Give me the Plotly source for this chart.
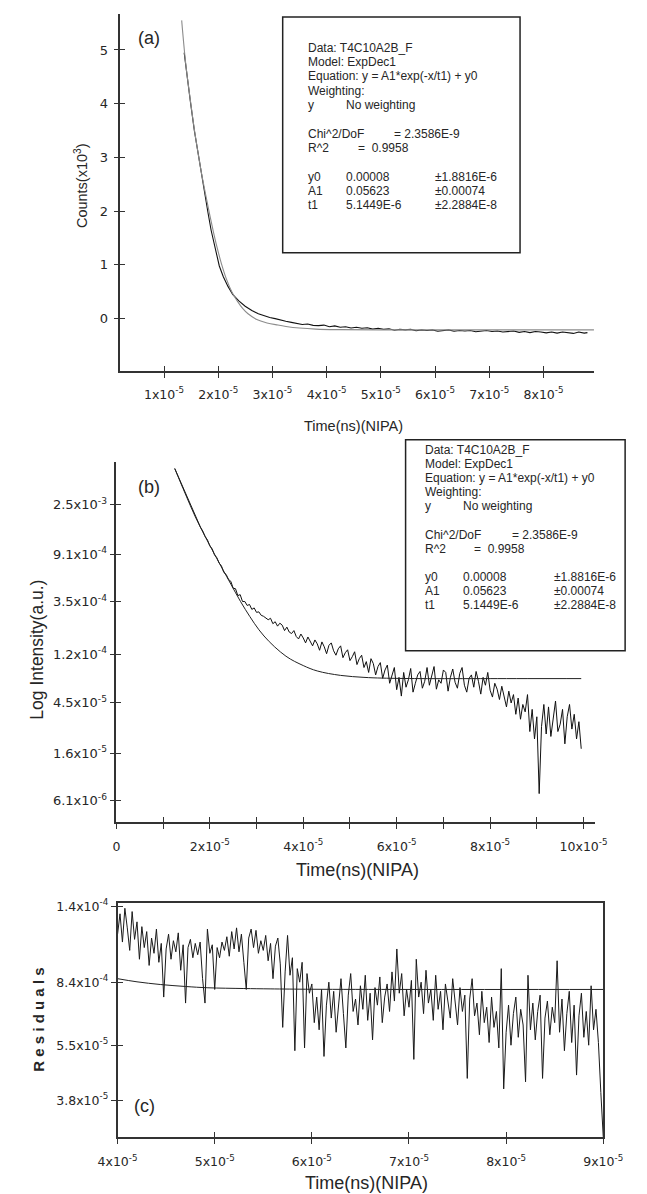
import numpy as np
import plotly.graph_objects as go

# ===================== DATA =====================
# Panel (a): time in units of 1e-5, counts in units of 1e3
a_time = [1.372, 1.43, 1.488, 1.56, 1.632, 1.69, 1.748, 1.81, 1.87, 1.948, 2.02, 2.094,
          2.18, 2.267, 2.38, 2.497, 2.62, 2.74, 2.843, 2.95, 3.05, 3.15, 3.246,
          3.35, 3.45, 3.55, 3.65, 3.75, 3.85, 3.95, 4.05, 4.15, 4.25, 4.35, 4.45, 4.55,
          4.65, 4.75, 4.85, 4.95, 5.05, 5.15, 5.25, 5.35, 5.45, 5.55, 5.65, 5.75, 5.85,
          5.95, 6.05, 6.15, 6.25, 6.35, 6.45, 6.55, 6.65, 6.75, 6.85, 6.95, 7.05, 7.15,
          7.25, 7.35, 7.45, 7.55, 7.65, 7.75, 7.85, 7.95, 8.05, 8.15, 8.25, 8.35, 8.45,
          8.55, 8.65, 8.75, 8.81]
a_counts = [4.95, 4.45, 4.03, 3.50, 3.04, 2.68, 2.36, 1.98, 1.64, 1.28, 0.98, 0.78,
            0.60, 0.45, 0.33, 0.23, 0.15, 0.09, 0.05, 0.02, 0.00, -0.03, -0.05,
            -0.07, -0.085, -0.11, -0.10, -0.125, -0.13, -0.12, -0.15, -0.135, -0.16, -0.15,
            -0.175, -0.16, -0.18, -0.17, -0.195, -0.18, -0.20, -0.19, -0.215, -0.20, -0.21,
            -0.20, -0.225, -0.21, -0.22, -0.21, -0.235, -0.22, -0.21, -0.235, -0.22, -0.23,
            -0.22, -0.245, -0.23, -0.22, -0.24, -0.23, -0.25, -0.24, -0.23, -0.255, -0.24,
            -0.26, -0.24, -0.25, -0.265, -0.25, -0.27, -0.25, -0.26, -0.275, -0.25, -0.27,
            -0.26]
a_fit_time = [1.326, 1.40, 1.488, 1.56, 1.632, 1.70, 1.77, 1.84, 1.91, 1.98, 2.06, 2.15,
              2.25, 2.35, 2.45, 2.55, 2.70, 2.90, 3.10, 3.25, 3.50, 3.80, 4.20, 5.00, 8.93]
a_fit_counts = [5.55, 4.75, 4.05, 3.52, 3.06, 2.66, 2.30, 1.95, 1.62, 1.32, 1.02, 0.74,
                0.50, 0.33, 0.19, 0.09, -0.01, -0.08, -0.12, -0.145, -0.175, -0.195,
                -0.205, -0.21, -0.21]
a_xtick_vals = [1, 2, 3, 4, 5, 6, 7, 8]
a_xtick_text = ["1x10<sup>-5</sup>", "2x10<sup>-5</sup>", "3x10<sup>-5</sup>", "4x10<sup>-5</sup>",
                "5x10<sup>-5</sup>", "6x10<sup>-5</sup>", "7x10<sup>-5</sup>", "8x10<sup>-5</sup>"]
a_ytick_vals = [0, 1, 2, 3, 4, 5]

# Panel (b): uniformly sampled, time in units of 1e-5; natural log of intensity
b_time_start, b_time_step = 1.25, 0.05
b_ln_intensity = [
    -5.26, -5.37, -5.48, -5.60, -5.71, -5.82, -5.93, -6.04, -6.15, -6.25,
    -6.35, -6.45, -6.53, -6.64, -6.71, -6.83, -6.89, -7.01, -7.07, -7.18,
    -7.24, -7.37, -7.41, -7.51, -7.55, -7.69, -7.70, -7.84, -7.82, -7.96,
    -7.96, -8.04, -8.02, -8.12, -8.09, -8.18, -8.17, -8.24, -8.26, -8.30,
    -8.33, -8.30, -8.41, -8.37, -8.46, -8.40, -8.44, -8.55, -8.48, -8.58,
    -8.61, -8.55, -8.67, -8.72, -8.62, -8.70, -8.80, -8.68, -8.76, -8.86,
    -8.74, -8.82, -8.95, -8.78, -8.88, -9.02, -8.85, -8.80, -8.96, -9.05,
    -8.92, -8.86, -9.10, -9.00, -8.94, -9.16, -9.08, -8.98, -9.24, -9.12,
    -9.05, -9.30, -9.18, -9.40, -9.12, -9.22, -9.45, -9.28, -9.20, -9.52,
    -9.35, -9.25, -9.62, -9.44, -9.30, -9.75, -9.50, -9.88, -9.40, -9.70,
    -9.55, -9.32, -9.80, -9.62, -9.45, -9.38, -9.72, -9.58, -9.30, -9.66,
    -9.48, -9.28, -9.74, -9.55, -9.62, -9.35, -9.40, -9.78, -9.50, -9.33,
    -9.60, -9.72, -9.42, -9.30, -9.66, -9.80, -9.52, -9.45, -9.70, -9.38,
    -9.58, -9.84, -9.50, -9.66, -9.40, -9.76, -9.90, -9.62, -9.74, -9.95,
    -9.68, -9.90, -10.10, -9.78, -10.02, -9.85, -10.25, -9.92, -10.35, -10.05,
    -10.20, -9.85, -10.60, -10.15, -10.75, -10.30, -11.86, -10.50, -10.05, -10.65,
    -10.10, -10.70, -10.35, -9.98, -10.60, -10.45, -10.15, -10.85, -10.30, -10.05,
    -10.55, -10.25, -10.75, -10.40, -10.95]
b_fit_time = [1.25, 1.47, 1.69, 1.89, 2.09, 2.36, 2.76, 3.16, 3.63, 4.00, 4.30, 4.80,
              5.30, 5.70, 6.50, 8.00, 9.95]
b_fit_ln_intensity = [-5.26, -5.76, -6.24, -6.62, -6.98, -7.45, -8.12, -8.66, -9.07, -9.26,
                      -9.37, -9.46, -9.50, -9.515, -9.525, -9.525, -9.525]
b_xtick_vals = [0, 1, 2, 3, 4, 5, 6, 7, 8, 9, 10]
b_xtick_text = ["0", "", "2x10<sup>-5</sup>", "", "4x10<sup>-5</sup>", "", "6x10<sup>-5</sup>", "",
                "8x10<sup>-5</sup>", "", "10x10<sup>-5</sup>"]
b_ytick_vals = [2.5e-3, 9.1e-4, 3.5e-4, 1.2e-4, 4.5e-5, 1.6e-5, 6.1e-6]
b_ytick_text = ["2.5x10<sup>-3</sup>", "9.1x10<sup>-4</sup>", "3.5x10<sup>-4</sup>", "1.2x10<sup>-4</sup>",
                "4.5x10<sup>-5</sup>", "1.6x10<sup>-5</sup>", "6.1x10<sup>-6</sup>"]

# Panel (c): uniformly sampled, time in units of 1e-5; residual values in units of 1e-5
c_time_start, c_time_step = 4.0, 0.025
c_residuals = [
    11.6, 13.3, 11.0, 13.8, 12.1, 10.4, 13.5, 11.2, 12.6, 9.8,
    12.2, 10.6, 11.8, 9.4, 11.3, 10.2, 12.0, 9.6, 10.9, 7.6,
    10.5, 11.6, 9.8, 11.1, 10.3, 11.7, 9.1, 10.8, 7.3, 10.6,
    11.2, 9.9, 10.9, 10.1, 11.0, 8.6, 7.3, 12.0, 10.2, 10.8,
    8.0, 10.6, 9.9, 11.0, 10.4, 11.4, 10.0, 11.8, 10.5, 12.1,
    10.3, 11.6, 9.6, 8.0, 11.3, 12.0, 10.6, 11.9, 10.2, 11.1,
    10.4, 11.5, 9.7, 10.9, 8.6, 10.7, 11.3, 9.5, 6.2, 9.0,
    11.5, 8.8, 9.9, 5.3, 9.2, 8.4, 9.6, 5.4, 8.9, 7.8,
    8.3, 6.4, 7.6, 6.1, 8.0, 5.1, 7.2, 8.4, 6.6, 7.9,
    6.0, 7.4, 8.6, 6.8, 5.4, 7.7, 8.9, 6.9, 7.5, 6.3,
    8.2, 7.0, 8.8, 6.5, 7.8, 5.7, 8.1, 7.2, 8.7, 6.4,
    7.6, 8.3, 6.9, 9.0, 7.4, 10.5, 7.8, 8.9, 6.7, 8.0,
    7.1, 8.5, 5.0, 9.8, 7.6, 8.4, 6.8, 9.1, 7.3, 8.0,
    6.5, 8.8, 7.0, 7.9, 6.1, 8.3, 7.4, 6.6, 8.6, 7.2,
    6.3, 8.1, 6.9, 7.7, 4.4, 7.5, 8.6, 6.7, 7.3, 5.9,
    7.9, 6.4, 7.1, 5.6, 7.6, 6.2, 6.9, 5.4, 9.2, 4.1,
    6.0, 7.2, 5.5, 6.8, 7.6, 5.8, 7.0, 6.3, 4.3, 8.8,
    6.1, 7.3, 5.7, 6.9, 7.7, 4.4, 6.6, 7.4, 5.9, 7.1,
    6.4, 9.7, 6.0, 7.5, 5.3, 6.8, 7.9, 5.6, 7.2, 4.5,
    6.7, 7.8, 5.8, 6.9, 5.5, 8.2, 6.1, 7.0, 5.6, 4.0,
    2.97]
c_fit_time = [4.0, 4.2, 4.44, 4.7, 4.93, 5.3, 5.57, 6.0, 7.0, 9.0]
c_fit_values = [8.60, 8.42, 8.27, 8.16, 8.09, 8.05, 8.03, 8.01, 8.0, 8.0]
c_xtick_vals = [4, 5, 6, 7, 8, 9]
c_xtick_text = ["4x10<sup>-5</sup>", "5x10<sup>-5</sup>", "6x10<sup>-5</sup>",
                "7x10<sup>-5</sup>", "8x10<sup>-5</sup>", "9x10<sup>-5</sup>"]
c_ytick_vals = [1.4e-4, 8.4e-5, 5.5e-5, 3.8e-5]
c_ytick_text = ["1.4x10<sup>-4</sup>", "8.4x10<sup>-4</sup>", "5.5x10<sup>-5</sup>", "3.8x10<sup>-5</sup>"]

# Fit report text (same for both boxes)
fit_report = [  # (row, column, text)
    (0, "c0", "Data: T4C10A2B_F"),
    (1, "c0", "Model: ExpDec1"),
    (2, "c0", "Equation: y = A1*exp(-x/t1) + y0"),
    (3, "c0", "Weighting:"),
    (4, "c0", "y"), (4, "c1", "No weighting"),
    (6, "c0", "Chi^2/DoF"), (6, "chi", "= 2.3586E-9"),
    (7, "c0", "R^2"), (7, "r2", "=  0.9958"),
    (9, "c0", "y0"), (9, "c1", "0.00008"), (9, "c2", "\u00b11.8816E-6"),
    (10, "c0", "A1"), (10, "c1", "0.05623"), (10, "c2", "\u00b10.00074"),
    (11, "c0", "t1"), (11, "c1", "5.1449E-6"), (11, "c2", "\u00b12.2884E-8"),
]

# ===================== LAYOUT =====================
W, H = 647, 1194
SCALE = 1e-5
FT = "Liberation Sans, Arial, Helvetica, sans-serif"
FN = "DejaVu Sans, Verdana, sans-serif"
INK = "#262626"


def PX(x):
    return x / W


def PY(y):
    return 1 - y / H


fig = go.Figure()

# --- traces ---
fig.add_trace(go.Scatter(x=[t * SCALE for t in a_time], y=a_counts, mode="lines",
                         line=dict(color="#111111", width=1.1), xaxis="x", yaxis="y",
                         showlegend=False, hoverinfo="skip"))
fig.add_trace(go.Scatter(x=[t * SCALE for t in a_fit_time], y=a_fit_counts, mode="lines",
                         line=dict(color="#8c8c8c", width=1.1, shape="spline"), xaxis="x4", yaxis="y4",
                         showlegend=False, hoverinfo="skip"))

b_time = [(b_time_start + i * b_time_step) * SCALE for i in range(len(b_ln_intensity))]
fig.add_trace(go.Scatter(x=b_time, y=np.exp(b_ln_intensity), mode="lines",
                         line=dict(color="#111111", width=1.0), xaxis="x2", yaxis="y2",
                         showlegend=False, hoverinfo="skip"))
fig.add_trace(go.Scatter(x=[t * SCALE for t in b_fit_time], y=np.exp(b_fit_ln_intensity), mode="lines",
                         line=dict(color="#222222", width=1.0, shape="spline"), xaxis="x5", yaxis="y5",
                         showlegend=False, hoverinfo="skip"))

c_time = [(c_time_start + i * c_time_step) * SCALE for i in range(len(c_residuals))]
fig.add_trace(go.Scatter(x=c_time, y=[v * SCALE for v in c_residuals], mode="lines",
                         line=dict(color="#1a1a1a", width=1.0), xaxis="x3", yaxis="y3",
                         showlegend=False, hoverinfo="skip"))
fig.add_trace(go.Scatter(x=[t * SCALE for t in c_fit_time], y=[v * SCALE for v in c_fit_values],
                         mode="lines", line=dict(color="#222222", width=1.0, shape="spline"),
                         xaxis="x6", yaxis="y6", showlegend=False, hoverinfo="skip"))


def main_axis(domain, rng, tickvals, ticktext, fsize, standoff, typ="linear", mirror=False):
    return dict(domain=domain, range=rng, type=typ, tickmode="array", tickvals=tickvals,
                ticktext=ticktext, ticks="outside", ticklen=5, tickwidth=1.4, tickcolor="#333",
                showline=True, linecolor="#333", linewidth=1.6, mirror=mirror,
                showgrid=False, zeroline=False, fixedrange=True,
                tickfont=dict(family=FN, size=fsize, color=INK), ticklabelstandoff=standoff)


def over_axis(overlaying, anchor, rng, tickvals, typ="linear"):
    return dict(overlaying=overlaying, anchor=anchor, range=rng, type=typ, tickmode="array",
                tickvals=tickvals, ticks="inside", ticklen=5, tickwidth=1.4, tickcolor="#333",
                showticklabels=False, showline=False, showgrid=False, zeroline=False, fixedrange=True)


# pixel frames of the three panels
A_X, A_Y = (107, 612), (8, 366.7)
B_X, B_Y = (102.7, 613), (458, 820)
C_X, C_Y = (104, 621.7), (902, 1136.7)

a_xr = [0.1955 * SCALE, 8.934 * SCALE]
a_yr = [-0.972, 5.670]
b_xr = [0, 10.247 * SCALE]
b_yr = [-5.4001, -2.2240]
c_xr = [4.0 * SCALE, 9.0 * SCALE]
c_yr = [-4.5275, -3.846]

a_xt = [v * SCALE for v in a_xtick_vals]
b_xt = [v * SCALE for v in b_xtick_vals]
c_xt = [v * SCALE for v in c_xtick_vals]

fig.update_layout(
    xaxis=main_axis([PX(A_X[0]), PX(A_X[1])], a_xr, a_xt, a_xtick_text, 12.5, 6),
    yaxis=main_axis([PY(A_Y[1]), PY(A_Y[0])], a_yr, a_ytick_vals, [str(v) for v in a_ytick_vals], 13, 3),
    xaxis2=main_axis([PX(B_X[0]), PX(B_X[1])], b_xr, b_xt, b_xtick_text, 12.5, 7),
    yaxis2=main_axis([PY(B_Y[1]), PY(B_Y[0])], b_yr, b_ytick_vals, b_ytick_text, 13, 0, typ="log"),
    xaxis3=main_axis([PX(C_X[0]), PX(C_X[1])], c_xr, c_xt, c_xtick_text, 12.5, 7, mirror=True),
    yaxis3=main_axis([PY(C_Y[1]), PY(C_Y[0])], c_yr, c_ytick_vals, c_ytick_text, 12.5, 0, typ="log", mirror=True),
    xaxis4=over_axis("x", "y4", a_xr, a_xt),
    yaxis4=over_axis("y", "x4", a_yr, a_ytick_vals),
    xaxis5=over_axis("x2", "y5", b_xr, b_xt),
    yaxis5=over_axis("y2", "x5", b_yr, b_ytick_vals, typ="log"),
    xaxis6=over_axis("x3", "y6", c_xr, c_xt),
    yaxis6=over_axis("y3", "x6", c_yr, c_ytick_vals, typ="log"),
)
fig.layout.xaxis.anchor = "y"
fig.layout.yaxis.anchor = "x"
fig.layout.xaxis2.anchor = "y2"
fig.layout.yaxis2.anchor = "x2"
fig.layout.xaxis3.anchor = "y3"
fig.layout.yaxis3.anchor = "x3"

annotations = []


def add_text(text, xpx, ypx, size, xanchor="center", yanchor="middle", angle=0, family=FT, weight="normal"):
    annotations.append(dict(text=text, x=PX(xpx), y=PY(ypx), xref="paper", yref="paper",
                            xanchor=xanchor, yanchor=yanchor, showarrow=False, textangle=angle,
                            font=dict(family=family, size=size, color=INK, weight=weight)))


# panel letters
add_text("(a)", 137, 32, 18)
add_text("(b)", 137, 483, 18)
add_text("(c)", 133, 1106, 18)
# axis titles
add_text("Counts(x10<sup>3</sup>)", 65, 180, 14.5, angle=-90)
add_text("Time(ns)(NIPA)", 355, 422, 14.5)
add_text("Log Intensity(a.u.)", 18, 647, 17.5, angle=-90)
add_text("Time(ns)(NIPA)", 360, 868, 18)
add_text("R e s i d u a l s", 20, 1019, 15, angle=-90, weight="bold")
add_text("Time(ns)(NIPA)", 369, 1183, 18)

# fit report boxes: first-row pixel y, row step, column pixel x
boxes = [
    dict(rect=(280, 11, 533, 248), top=42, step=14.4, size=12,
         cols={"c0": 305, "c1": 345, "chi": 397, "r2": 358, "c2": 440}),
    dict(rect=(411, 436, 645, 648), top=446, step=14.2, size=12,
         cols={"c0": 430, "c1": 470, "chi": 522, "r2": 482, "c2": 567}),
]
shapes = []
for bx in boxes:
    x0, y0, x1, y1 = bx["rect"]
    shapes.append(dict(type="rect", xref="paper", yref="paper", x0=PX(x0), x1=PX(x1),
                       y0=PY(y1), y1=PY(y0), line=dict(color="#222", width=1.5),
                       fillcolor="rgba(255,255,255,0)", layer="above"))
    for row, col, txt in fit_report:
        add_text(txt, bx["cols"][col], bx["top"] + row * bx["step"], bx["size"], xanchor="left")

fig.update_layout(
    width=W, height=H, autosize=False,
    margin=dict(l=0, r=0, t=0, b=0, pad=0),
    paper_bgcolor="white", plot_bgcolor="white",
    showlegend=False, annotations=annotations, shapes=shapes,
    font=dict(family=FT, color=INK),
)

fig.write_html("out.html", config={"displayModeBar": False},
               post_script="document.body.style.margin='0';"
                           "document.documentElement.style.overflow='hidden';"
                           "document.body.style.overflow='hidden';")
